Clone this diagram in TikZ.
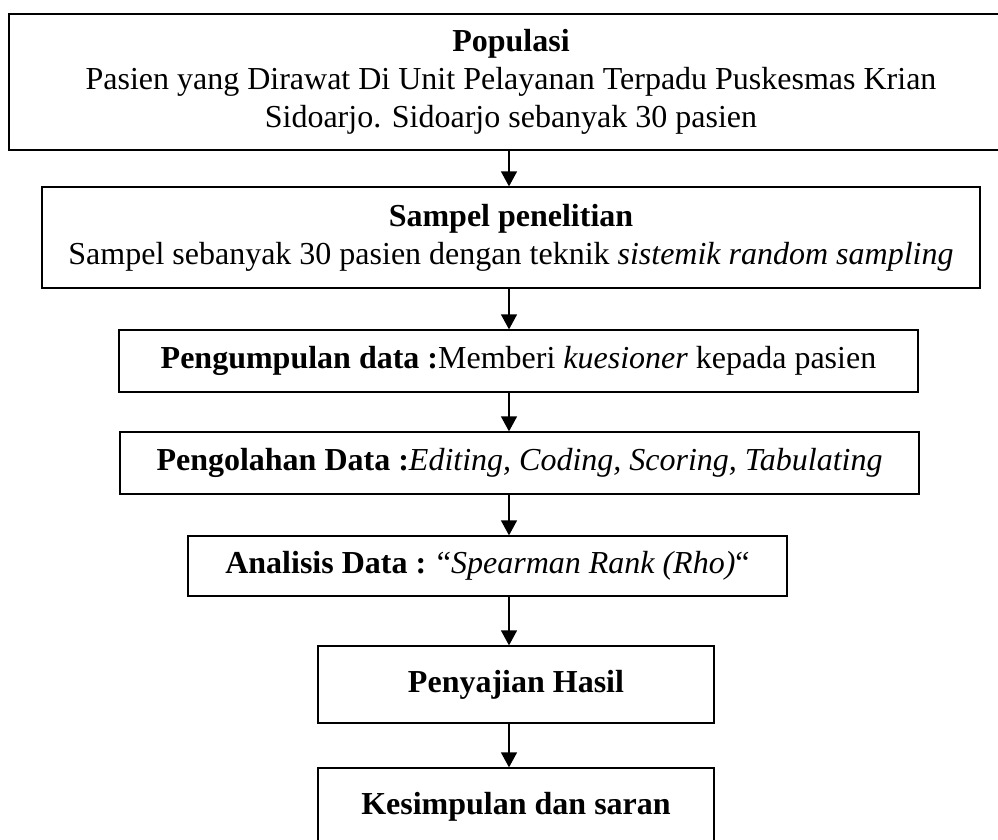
\documentclass[tikz,border=0pt]{standalone}
\usepackage{fontspec}
\setmainfont{Liberation Serif}
\usetikzlibrary{arrows.meta}
\begin{document}
\begin{tikzpicture}[x=1pt,y=-1pt,
  box/.style={draw,line width=1.3pt,inner sep=0pt,align=center,font=\fontsize{32}{38}\selectfont},
  arr/.style={line width=1.3pt,-{Triangle[length=15pt,width=16pt]}}]
\useasboundingbox (0,0) rectangle (998,839);
\node[box,minimum width=1004pt,minimum height=136pt] (b1) at (511,82)
  {\textbf{Populasi}\\Pasien yang Dirawat Di Unit Pelayanan Terpadu Puskesmas Krian\\Sidoarjo. Sidoarjo sebanyak 30 pasien};
\node[box,minimum width=938pt,minimum height=101pt] (b2) at (511,237.5)
  {\textbf{Sampel penelitian}\\Sampel sebanyak 30 pasien dengan teknik \textit{sistemik random sampling}};
\node[box,minimum width=799pt,minimum height=62pt] (b3) at (518.5,361)
  {\textbf{Pengumpulan data :}Memberi \textit{kuesioner} kepada pasien};
\node[box,minimum width=799pt,minimum height=62pt] (b4) at (519.5,463)
  {\textbf{Pengolahan Data :}\textit{Editing, Coding, Scoring, Tabulating}};
\node[box,minimum width=599pt,minimum height=60pt] (b5) at (487.5,566)
  {\textbf{Analisis Data :} “\textit{Spearman Rank (Rho)}“};
\node[box,minimum width=396pt,minimum height=77pt] (b6) at (516,684.5)
  {\textbf{Penyajian Hasil}};
\node[box,minimum width=396pt,minimum height=77pt] (b7) at (516,806.5)
  {\textbf{Kesimpulan dan saran}};
\coordinate (ax) at (509,0);
\draw[arr] (b1.south -| ax) -- (b2.north -| ax);
\draw[arr] (b2.south -| ax) -- (b3.north -| ax);
\draw[arr] (b3.south -| ax) -- (b4.north -| ax);
\draw[arr] (b4.south -| ax) -- (b5.north -| ax);
\draw[arr] (b5.south -| ax) -- (b6.north -| ax);
\draw[arr] (b6.south -| ax) -- (b7.north -| ax);
\end{tikzpicture}
\end{document}
